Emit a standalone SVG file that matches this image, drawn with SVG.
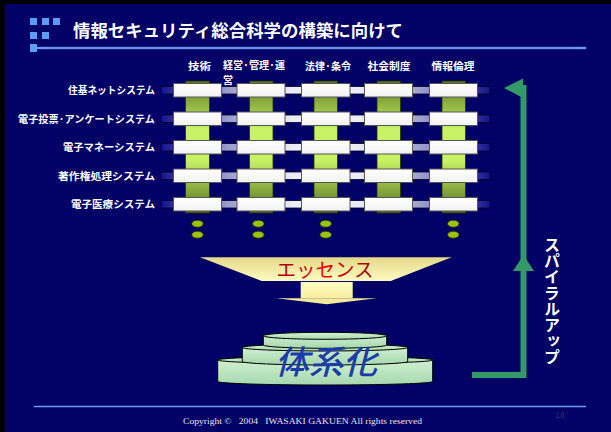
<svg xmlns="http://www.w3.org/2000/svg" width="611" height="432" viewBox="0 0 611 432">
  <defs>
    <linearGradient id="gBar" gradientUnits="userSpaceOnUse" x1="0" y1="81" x2="0" y2="213">
      <stop offset="0" stop-color="#5c7620"/>
      <stop offset="0.36" stop-color="#c8f266"/>
      <stop offset="0.6" stop-color="#c8f266"/>
      <stop offset="1" stop-color="#566e1e"/>
    </linearGradient>
    <linearGradient id="gRail" gradientUnits="userSpaceOnUse" x1="161" y1="0" x2="490" y2="0">
      <stop offset="0" stop-color="#14148c"/>
      <stop offset="0.2" stop-color="#9a9acc"/>
      <stop offset="0.4" stop-color="#ececf6"/>
      <stop offset="0.6" stop-color="#ececf6"/>
      <stop offset="0.8" stop-color="#9a9acc"/>
      <stop offset="1" stop-color="#14148c"/>
    </linearGradient>
    <linearGradient id="gBox" x1="0" y1="0" x2="0" y2="1">
      <stop offset="0" stop-color="#ffffff"/>
      <stop offset="1" stop-color="#f2f2f2"/>
    </linearGradient>
    <linearGradient id="gFunnel" x1="0" y1="0" x2="0" y2="1">
      <stop offset="0" stop-color="#e4d888"/>
      <stop offset="1" stop-color="#fffcc2"/>
    </linearGradient>
    <linearGradient id="gStem" x1="0" y1="0" x2="0" y2="1">
      <stop offset="0" stop-color="#fffcc0"/>
      <stop offset="1" stop-color="#f6eea0"/>
    </linearGradient>
    <linearGradient id="gTier" x1="0" y1="0" x2="0" y2="1">
      <stop offset="0" stop-color="#d6f4d6"/>
      <stop offset="1" stop-color="#a6d8ae"/>
    </linearGradient>
    <linearGradient id="gRed" x1="0" y1="0" x2="1" y2="0">
      <stop offset="0" stop-color="#a00000"/>
      <stop offset="0.45" stop-color="#f00000"/>
      <stop offset="1" stop-color="#a00000"/>
    </linearGradient>
    <style>
      .jp { font-family: "Noto Sans CJK JP", "Noto Sans CJK SC", sans-serif; }
      .lbl { font-size: 10px; font-weight: bold; fill: #ffffff; }
      .row { text-anchor: end; }
      .hdr { text-anchor: middle; }
      .bar { fill: url(#gBar); stroke: #2a3300; stroke-width: 0.8; }
      .rail { fill: url(#gRail); stroke: #000022; stroke-width: 0.8; }
      .box { fill: url(#gBox); stroke: #555555; stroke-width: 1; }
      .dot { fill: #9cc20c; stroke: #2a3300; stroke-width: 0.8; }
      .tier { fill: url(#gTier); stroke: #000000; stroke-width: 1; }
      .spiral { fill: none; stroke: #339966; stroke-width: 6; }
      .head { fill: #339966; }
    </style>
  </defs>

  <!-- slide frame -->
  <rect x="0" y="0" width="611" height="432" fill="#000000"/>
  <rect x="5" y="4" width="606" height="428" fill="#000066"/>

  <!-- heading -->
  <g id="title">
    <g fill="#5c9cf6">
      <rect x="30" y="18" width="7" height="7"/>
      <rect x="42" y="18" width="7" height="7"/>
      <rect x="53" y="18" width="7" height="7"/>
      <rect x="30" y="32" width="7" height="7"/>
      <rect x="42" y="32" width="7" height="7"/>
      <rect x="30" y="44" width="7" height="8"/>
    </g>
    <line x1="37" y1="48" x2="586" y2="48" stroke="#4a78dc" stroke-width="2.5"/>
    <line x1="37" y1="48" x2="586" y2="48" stroke="#9cc4ff" stroke-width="0.8"/>
    <text class="jp" x="73" y="37" font-size="17" font-weight="bold" fill="#ffffff" textLength="330" lengthAdjust="spacingAndGlyphs">情報セキュリティ総合科学の構築に向けて</text>
  </g>

  <!-- horizontal rails behind the grid, and the spiral-up arrow -->
  <g id="connectors">
    <rect class="rail" x="161.5" y="86.5" width="328.5" height="7.5"/>
    <rect class="rail" x="161.5" y="115" width="328.5" height="7.5"/>
    <rect class="rail" x="161.5" y="143.5" width="328.5" height="7.5"/>
    <rect class="rail" x="161.5" y="172" width="328.5" height="7.5"/>
    <rect class="rail" x="161.5" y="200.5" width="328.5" height="7.5"/>

    <path class="spiral" d="M472 375 H523.5 V85"/>
    <polygon class="head" points="523.5,255 513,271 534,271"/>
    <polygon class="head" points="504,88 523,78.5 523,98"/>
  </g>

  <!-- vertical columns -->
  <g id="col-tech">
    <rect class="bar" x="185.5" y="81" width="24" height="132"/>
    <text class="jp lbl hdr" x="199.5" y="70" textLength="23" lengthAdjust="spacingAndGlyphs">技術</text>
  </g>
  <g id="col-management">
    <rect class="bar" x="249.5" y="81" width="23.5" height="132"/>
    <text class="jp lbl" x="223" y="69" font-size="9.5" textLength="62" lengthAdjust="spacingAndGlyphs">経営·管理·運</text>
    <text class="jp lbl" x="223" y="83.5" font-size="9.5">営</text>
  </g>
  <g id="col-law">
    <rect class="bar" x="314" y="81" width="23.5" height="132"/>
    <text class="jp lbl hdr" x="328" y="70" textLength="46" lengthAdjust="spacingAndGlyphs">法律·条令</text>
  </g>
  <g id="col-society">
    <rect class="bar" x="377" y="81" width="23.5" height="132"/>
    <text class="jp lbl hdr" x="389" y="70" textLength="43" lengthAdjust="spacingAndGlyphs">社会制度</text>
  </g>
  <g id="col-ethics">
    <rect class="bar" x="442" y="81" width="23.5" height="132"/>
    <text class="jp lbl hdr" x="453" y="70" textLength="43" lengthAdjust="spacingAndGlyphs">情報倫理</text>
  </g>

  <!-- system rows -->
  <g id="row-juki">
    <text class="jp lbl row" x="155" y="94" textLength="87" lengthAdjust="spacingAndGlyphs">住基ネットシステム</text>
    <rect class="box" x="173.5" y="83.5" width="48" height="13.5"/>
    <rect class="box" x="237" y="83.5" width="48" height="13.5"/>
    <rect class="box" x="301.5" y="83.5" width="48.5" height="13.5"/>
    <rect class="box" x="364.5" y="83.5" width="48" height="13.5"/>
    <rect class="box" x="429.5" y="83.5" width="48" height="13.5"/>
  </g>
  <g id="row-evote">
    <text class="jp lbl row" x="155" y="122.5" textLength="137" lengthAdjust="spacingAndGlyphs">電子投票·アンケートシステム</text>
    <rect class="box" x="173.5" y="112" width="48" height="13.5"/>
    <rect class="box" x="237" y="112" width="48" height="13.5"/>
    <rect class="box" x="301.5" y="112" width="48.5" height="13.5"/>
    <rect class="box" x="364.5" y="112" width="48" height="13.5"/>
    <rect class="box" x="429.5" y="112" width="48" height="13.5"/>
  </g>
  <g id="row-emoney">
    <text class="jp lbl row" x="155" y="151" textLength="92" lengthAdjust="spacingAndGlyphs">電子マネーシステム</text>
    <rect class="box" x="173.5" y="140.5" width="48" height="13.5"/>
    <rect class="box" x="237" y="140.5" width="48" height="13.5"/>
    <rect class="box" x="301.5" y="140.5" width="48.5" height="13.5"/>
    <rect class="box" x="364.5" y="140.5" width="48" height="13.5"/>
    <rect class="box" x="429.5" y="140.5" width="48" height="13.5"/>
  </g>
  <g id="row-copyright">
    <text class="jp lbl row" x="155" y="179.5" textLength="97" lengthAdjust="spacingAndGlyphs">著作権処理システム</text>
    <rect class="box" x="173.5" y="169" width="48" height="13.5"/>
    <rect class="box" x="237" y="169" width="48" height="13.5"/>
    <rect class="box" x="301.5" y="169" width="48.5" height="13.5"/>
    <rect class="box" x="364.5" y="169" width="48" height="13.5"/>
    <rect class="box" x="429.5" y="169" width="48" height="13.5"/>
  </g>
  <g id="row-emedical">
    <text class="jp lbl row" x="155" y="208" textLength="84" lengthAdjust="spacingAndGlyphs">電子医療システム</text>
    <rect class="box" x="173.5" y="197.5" width="48" height="13.5"/>
    <rect class="box" x="237" y="197.5" width="48" height="13.5"/>
    <rect class="box" x="301.5" y="197.5" width="48.5" height="13.5"/>
    <rect class="box" x="364.5" y="197.5" width="48" height="13.5"/>
    <rect class="box" x="429.5" y="197.5" width="48" height="13.5"/>
  </g>

  <!-- continuation dots -->
  <g id="ellipsis">
    <ellipse class="dot" cx="197.5" cy="223.7" rx="5.8" ry="3.5"/>
    <ellipse class="dot" cx="197.5" cy="234.7" rx="5.8" ry="3.5"/>
    <ellipse class="dot" cx="258.3" cy="223.7" rx="5.8" ry="3.5"/>
    <ellipse class="dot" cx="258.3" cy="234.7" rx="5.8" ry="3.5"/>
    <ellipse class="dot" cx="325.7" cy="223.7" rx="5.8" ry="3.5"/>
    <ellipse class="dot" cx="325.7" cy="234.7" rx="5.8" ry="3.5"/>
    <ellipse class="dot" cx="453.3" cy="223.7" rx="5.8" ry="3.5"/>
    <ellipse class="dot" cx="453.3" cy="234.7" rx="5.8" ry="3.5"/>
  </g>

  <!-- distilling funnel -->
  <g id="essence">
    <polygon points="200,257.3 451.7,257.3 390.7,281 261.7,281" fill="url(#gFunnel)"/>
    <rect x="300.7" y="282" width="52" height="16.3" fill="url(#gStem)"/>
    <polygon points="276,298.3 376.7,298.3 326.7,304.3" fill="#f3eb9c"/>
    <text class="jp" x="325" y="277" font-size="19.5" text-anchor="middle" fill="url(#gRed)" textLength="97" lengthAdjust="spacingAndGlyphs">エッセンス</text>
  </g>

  <!-- stacked pedestal -->
  <g id="systematization">
    <path class="tier" d="M217.7 360 V381.5 A107.5 3.5 0 0 0 432.7 381.5 V360 A107.5 3.5 0 0 0 217.7 360 Z"/>
    <ellipse class="tier" cx="325.2" cy="360" rx="107.5" ry="3.5"/>
    <path class="tier" d="M242.3 347.5 V361.5 A82.7 3.5 0 0 0 407.7 361.5 V347.5 A82.7 3.5 0 0 0 242.3 347.5 Z"/>
    <ellipse class="tier" cx="325" cy="347.5" rx="82.7" ry="3.5"/>
    <path class="tier" d="M263.3 335.8 V345 A61.7 3.3 0 0 0 386.7 345 V335.8 A61.7 3.3 0 0 0 263.3 335.8 Z"/>
    <ellipse class="tier" cx="325" cy="335.8" rx="61.7" ry="3.5"/>
    <text class="jp" x="326" y="374" font-size="33" font-style="italic" font-weight="500" text-anchor="middle" fill="#1c3ca8" textLength="102" lengthAdjust="spacingAndGlyphs">体系化</text>
  </g>

  <!-- spiral-up caption -->
  <g id="spiral-label">
    <text class="jp" x="552" y="237" font-size="16" font-weight="bold" fill="#ffffff" style="writing-mode: vertical-rl">スパイラルアップ</text>
  </g>

  <!-- footer -->
  <g id="footer">
    <line x1="34" y1="406.5" x2="586" y2="406.5" stroke="#6b9cf4" stroke-width="1.5"/>
    <text x="302.5" y="424" font-family="Liberation Serif, serif" font-size="9" fill="#e8e8f0" text-anchor="middle" textLength="239" lengthAdjust="spacingAndGlyphs" xml:space="preserve">Copyright ©   2004   IWASAKI GAKUEN All rights reserved</text>
    <text x="560" y="418" font-family="Liberation Sans, sans-serif" font-size="8.5" fill="#2c2c70" text-anchor="middle">18</text>
  </g>
</svg>
